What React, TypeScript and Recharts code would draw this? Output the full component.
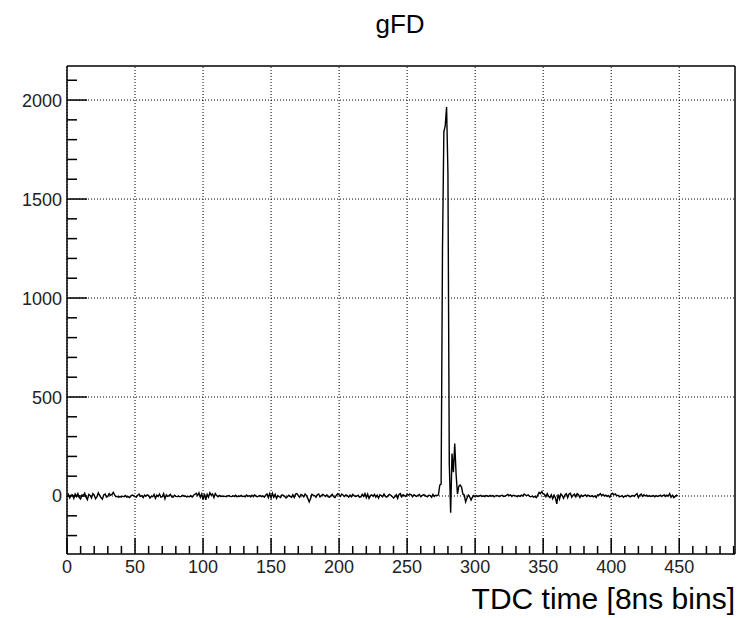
import React from "react";
import { LineChart, Line, XAxis, YAxis, ReferenceLine } from "recharts";

// Signal values per TDC bin (bins 0..449)
const bins000to049 = [
  -5, 8, -10, 4, 6, -12, 10, -3, 12, -8,
  -15, 5, 2, 14, -6, -18, 8, 3, -10, 12,
  4, -14, -4, 16, 2, -8, -16, 5, 10, -5,
  -2, 12, 3, 8, 18, 6, -4, -2, -6, -3,
  -5, -1, -4, 2, -6, -3, -8, 0, 5, 2,
];
const bins050to099 = [
  -3, -6, 4, 10, -2, 2, -8, 5, -1, 6,
  2, -10, -2, -4, 8, -12, 4, -2, 10, -6,
  -4, 12, -14, 6, -2, 2, 8, -4, -6, 4,
  -2, -3, 0, -4, -2, 3, -1, 0, -5, -2,
  -4, 2, -6, 4, 8, 14, 2, 16, -6, 10,
];
const bins100to149 = [
  -18, 12, -20, 8, -6, 16, 4, 10, -8, 12,
  2, -4, 3, -2, 0, -3, -1, -4, 0, 2,
  -2, -3, 1, -2, 4, -4, 0, -2, 3, -3,
  -1, -4, 5, -2, 2, -5, 4, -3, 6, -2,
  -4, 0, 2, -3, 1, -6, 4, 10, -8, 12,
];
const bins150to199 = [
  -10, 14, -6, 8, -12, 2, -4, -8, 6, 3,
  -2, -10, -4, 4, -2, -6, 6, -8, 10, 12,
  2, -6, 8, 4, -4, 10, 2, -12, -30, -14,
  8, 4, 2, -6, 6, 10, -4, 2, 8, 4,
  -2, 6, -4, -6, 2, 8, -4, -8, 4, 12,
];
const bins200to249 = [
  6, -2, 10, 4, -2, 6, 2, -6, 4, -4,
  8, 2, -2, 0, 4, -6, -4, 8, -2, 12,
  -8, 10, -12, 2, 6, -2, 8, -6, 4, -10,
  6, 2, -4, 10, -2, -6, 2, 8, 4, -2,
  -10, -4, 6, -12, 8, 12, -4, 6, 2, -2,
];
const bins250to299 = [
  8, 4, 10, 6, -4, 6, 2, -2, 4, 8,
  -4, 2, 6, 4, -2, -4, 4, 2, -6, 8,
  -2, 4, 2, 5, 55, 60, 1250, 1840, 1870, 1965,
  1630, 160, -85, 215, 120, 265, 110, 10, 50, 55,
  45, 10, 5, -30, -10, 5, -4, -20, -6, 2,
];
const bins300to349 = [
  -4, 2, -2, 0, 3, -2, 1, -3, 2, 0,
  -2, 3, -1, 2, -4, 1, 3, 0, -2, 2,
  4, -2, 0, 3, 8, 2, 6, -2, 4, 2,
  0, -3, 2, -2, 4, 0, 10, 4, 2, 6,
  -2, -4, 0, -6, -2, -8, 4, 18, 12, 22,
];
const bins350to399 = [
  10, 8, -4, 12, -2, -8, 6, -14, 4, -10,
  -40, 8, -16, 10, 2, -12, 6, 12, -8, 10,
  14, -6, 4, 10, -4, 12, 6, -8, 4, -2,
  2, 6, -2, 4, 0, -2, 2, -4, 0, -8,
  6, 4, 12, 2, 8, 0, 4, -2, 2, -6,
];
const bins400to449 = [
  8, 14, 6, 10, 2, 4, -4, -2, 2, -6,
  0, -2, 4, 2, -4, 0, 2, -2, 6, 12,
  -8, 4, 10, -2, 6, 0, 4, -2, 2, -2,
  0, 2, -4, 2, -2, 0, 4, -2, 2, 6,
  -2, 4, 0, 12, -6, 4, -8, -2, 4, 0,
];

// Axis ticks
const xMajorTicks = [0, 50, 100, 150, 200, 250, 300, 350, 400, 450];
const xAllTicks = [
  0, 10, 20, 30, 40, 50, 60, 70, 80, 90, 100, 110, 120, 130, 140, 150, 160, 170, 180, 190,
  200, 210, 220, 230, 240, 250, 260, 270, 280, 290, 300, 310, 320, 330, 340, 350, 360, 370,
  380, 390, 400, 410, 420, 430, 440, 450, 460, 470, 480, 490,
];
const yMajorTicks = [0, 500, 1000, 1500, 2000];
const yAllTicks = [
  -200, -100, 0, 100, 200, 300, 400, 500, 600, 700, 800, 900, 1000, 1100, 1200, 1300, 1400,
  1500, 1600, 1700, 1800, 1900, 2000, 2100,
];
const xDomain: [number, number] = [0, 491];
const yDomain: [number, number] = [-293, 2172];

const titleText = "gFD";
const xAxisTitle = "TDC time [8ns bins]";

const allValues = [
  ...bins000to049, ...bins050to099, ...bins100to149, ...bins150to199, ...bins200to249,
  ...bins250to299, ...bins300to349, ...bins350to399, ...bins400to449,
];
const data = allValues.map((v, i) => ({ t: i, v }));

const FONT = "'Liberation Sans', Arial, Helvetica, sans-serif";

const XTick = (props: any) => {
  const { x, y, payload } = props;
  const v = payload.value;
  const major = xMajorTicks.includes(v);
  return (
    <g>
      <line x1={x} x2={x} y1={y} y2={y - (major ? 16 : 8)} stroke="#000" strokeWidth={1.5} />
      {major && (
        <text x={x} y={y + 19} textAnchor="middle" fontSize={18} fill="#222" fontFamily={FONT}>
          {v}
        </text>
      )}
    </g>
  );
};

const YTick = (props: any) => {
  const { x, y, payload } = props;
  const v = payload.value;
  const major = yMajorTicks.includes(v);
  return (
    <g>
      <line x1={x} x2={x + (major ? 20 : 10)} y1={y} y2={y} stroke="#000" strokeWidth={1.5} />
      {major && (
        <text x={x - 5} y={y + 6.5} textAnchor="end" fontSize={18} fill="#222" fontFamily={FONT}>
          {v}
        </text>
      )}
    </g>
  );
};

export default function App() {
  return (
    <div style={{ position: "absolute", left: 0, top: 0, width: 741, height: 618, background: "#fff" }}>
      <LineChart
        width={741}
        height={618}
        data={data}
        margin={{ top: 66, right: 6, bottom: 0, left: 0 }}
      >
        <XAxis
          type="number"
          dataKey="t"
          domain={xDomain}
          allowDataOverflow
          ticks={xAllTicks}
          interval={0}
          tick={<XTick />}
          tickLine={false}
          tickSize={0}
          tickMargin={0}
          height={64}
          axisLine={{ stroke: "#000", strokeWidth: 1.5 }}
        />
        <YAxis
          type="number"
          domain={yDomain}
          allowDataOverflow
          ticks={yAllTicks}
          interval={0}
          tick={<YTick />}
          tickLine={false}
          tickSize={0}
          tickMargin={0}
          width={67}
          axisLine={{ stroke: "#000", strokeWidth: 1.5 }}
        />
        {xMajorTicks.map((v) => (
          <ReferenceLine key={"gx" + v} x={v} stroke="#000" strokeWidth={1} strokeDasharray="1 2" />
        ))}
        {yMajorTicks.map((v) => (
          <ReferenceLine key={"gy" + v} y={v} stroke="#000" strokeWidth={1} strokeDasharray="1 2" />
        ))}
        <ReferenceLine x={xDomain[1]} stroke="#000" strokeWidth={1.5} />
        <ReferenceLine y={yDomain[1]} stroke="#000" strokeWidth={1.5} />
        <Line
          type="linear"
          dataKey="v"
          stroke="#000"
          strokeWidth={1.4}
          dot={false}
          isAnimationActive={false}
        />
      </LineChart>
      <svg
        width={741}
        height={618}
        style={{ position: "absolute", left: 0, top: 0, pointerEvents: "none" }}
      >
        <text x={400} y={33} textAnchor="middle" fontSize={26} fill="#000" fontFamily={FONT}>
          {titleText}
        </text>
        <text x={735} y={609} textAnchor="end" fontSize={30} fill="#000" fontFamily={FONT}>
          {xAxisTitle}
        </text>
      </svg>
    </div>
  );
}
